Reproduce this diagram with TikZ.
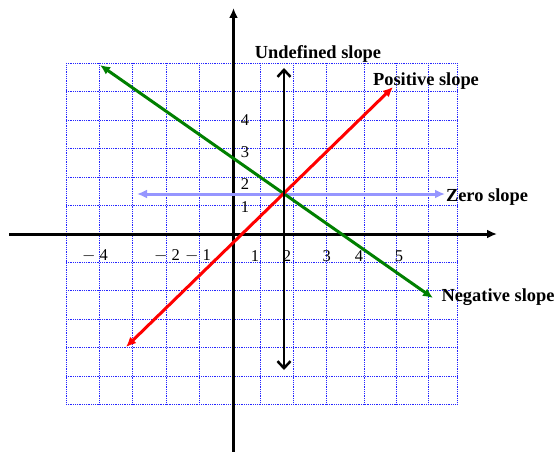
\documentclass[tikz,border=0pt]{standalone}
\usepackage{fontspec}
\setmainfont{Liberation Serif}
\usetikzlibrary{arrows.meta}
\definecolor{lineGreen}{RGB}{0,128,0}
\definecolor{lineLav}{RGB}{150,150,255}
\begin{document}
\begin{tikzpicture}[x=1pt,y=-1pt,
  gridline/.style={blue!85,line width=0.8pt,densely dotted},
  axisline/.style={black,line width=3pt,-{Latex[length=10pt,width=9pt]}},
  slopeline/.style={line width=3pt,{Latex[length=10pt,width=9pt]}-{Latex[length=10pt,width=9pt]}},
  vertline/.style={black,line width=2.5pt,{Straight Barb[length=7pt,width=13pt]}-{Straight Barb[length=7pt,width=13pt]}},
  ticklabel/.style={inner sep=0pt,font=\fontsize{16.5}{18}\selectfont},
  slopelabel/.style={inner sep=0pt,font=\bfseries\fontsize{18.4}{20}\selectfont}]
\useasboundingbox (0,0) rectangle (559,452);
\fill[white] (0,0) rectangle (559,452);
% grid
\foreach \x in {66,99.5,132.5,166,199.5,260,293,326.5,364,396.5,428,457}
  \draw[gridline] (\x,63.3) -- (\x,404.5);
\foreach \i in {0,...,12}
  \draw[gridline] (66,63.3+28.43*\i) -- (457,63.3+28.43*\i);
% axes
\coordinate (xs) at (9,234);
\coordinate (xe) at (497,234);
\coordinate (ys) at (233.5,452);
\coordinate (ye) at (233.5,8);
\draw[axisline] (xs) -- (xe);
\draw[axisline] (ys) -- (ye);
% slope lines
\coordinate (zA) at (137,194);
\coordinate (zB) at (445,194);
\coordinate (gA) at (100,65);
\coordinate (gB) at (433,298);
\coordinate (rA) at (393,87);
\coordinate (rB) at (126,347);
\coordinate (vA) at (284,68);
\coordinate (vB) at (284,370);
\draw[slopeline,lineLav] (zA) -- (zB);
\draw[slopeline,lineGreen] (gA) -- (gB);
\draw[slopeline,red] (rA) -- (rB);
\draw[vertline] (vA) -- (vB);
% labels
\node[slopelabel] (lu) at (318,54) {Undefined slope};
\node[slopelabel] (lp) at (426,81) {Positive slope};
\node[slopelabel] (lz) at (487,197) {Zero slope};
\node[slopelabel] (ln) at (498,297) {Negative slope};
% tick labels
\node[ticklabel] (y4) at (245,120) {4};
\node[ticklabel] (y3) at (245,152) {3};
\node[ticklabel] (y2) at (245,184) {2};
\node[ticklabel] (y1) at (245,207) {1};
\node[ticklabel] (xm4) at (95,256) {$-$ 4};
\node[ticklabel] (xm2) at (167,256) {$-$ 2};
\node[ticklabel] (xm1) at (198,256) {$-$ 1};
\node[ticklabel] (x1) at (255,256) {1};
\node[ticklabel] (x2) at (287,256) {2};
\node[ticklabel] (x3) at (326.7,256) {3};
\node[ticklabel] (x4) at (359,256) {4};
\node[ticklabel] (x5) at (399,256) {5};
\end{tikzpicture}
\end{document}
